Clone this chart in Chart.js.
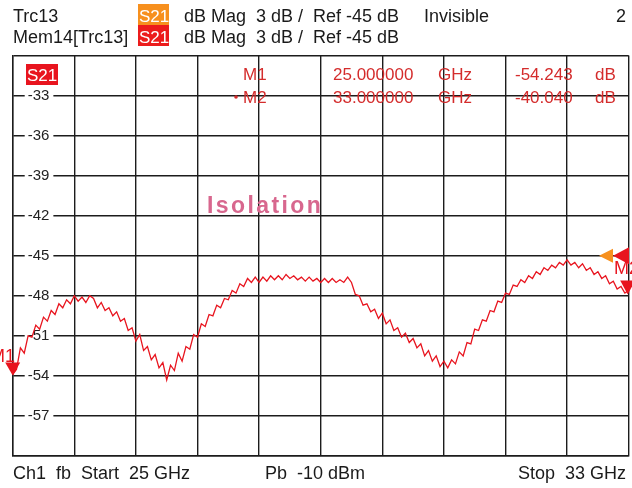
<!DOCTYPE html>
<html><head><meta charset="utf-8">
<script src="https://cdn.jsdelivr.net/npm/chart.js@4.4.1/dist/chart.umd.min.js"></script>
<style>html,body{margin:0;padding:0;background:#fff;}canvas{display:block;}</style>
</head><body>
<canvas id="c" width="632" height="488"></canvas>
<script>
// Sweep definition (GHz)
const freqStartGHz = 25;
const freqStopGHz = 33;
const freqStepGHz = 0.05;
// Trace S21 magnitude (dB)
const s21dB = [
  -53.9,-53.5,-51.9,-52.3,-51.0,-51.1,-50.2,-50.5,-49.6,-49.9,
  -49.1,-49.4,-48.6,-48.9,-48.3,-48.6,-48.0,-48.4,-48.1,-48.5,
  -48.0,-48.2,-48.9,-48.5,-49.1,-48.9,-49.5,-49.2,-49.9,-49.7,
  -50.6,-50.4,-51.4,-50.9,-52.1,-51.8,-52.8,-52.4,-53.4,-53.0,
  -54.3,-53.2,-53.6,-52.3,-52.9,-51.8,-52.0,-50.9,-51.1,-50.1,
  -50.3,-49.4,-49.5,-48.7,-48.9,-48.2,-48.3,-47.6,-47.8,-47.1,
  -47.3,-46.7,-47.0,-46.6,-47.0,-46.6,-46.9,-46.5,-46.8,-46.5,
  -46.8,-46.4,-46.7,-46.5,-46.8,-46.6,-46.9,-46.6,-46.9,-46.7,
  -47.0,-46.7,-47.0,-46.7,-47.0,-46.8,-47.0,-46.6,-47.0,-47.9,
  -48.0,-48.7,-48.6,-49.2,-49.0,-49.7,-49.3,-50.1,-49.8,-50.6,
  -50.4,-51.1,-50.8,-51.5,-51.2,-51.9,-51.6,-52.5,-52.1,-52.9,
  -52.5,-53.3,-52.9,-53.4,-52.8,-53.1,-52.2,-52.5,-51.5,-51.6,
  -50.5,-50.6,-49.8,-49.9,-49.1,-49.2,-48.4,-48.5,-47.8,-47.9,
  -47.2,-47.3,-46.8,-47.0,-46.5,-46.7,-46.2,-46.4,-45.9,-46.1,
  -45.7,-45.9,-45.5,-45.7,-45.3,-45.7,-45.5,-45.9,-45.6,-46.1,
  -45.9,-46.4,-46.2,-46.7,-46.5,-47.1,-46.9,-47.5,-47.3,-47.8,-47.6
];
// Axis settings
const yMin = -60, yMax = -30, yStep = 3;
const xDivisionGHz = 0.8;
const yTickLabels = ['-33','-36','-39','-42','-45','-48','-51','-54','-57'];
const refLevel = -45;
// Markers
const markerNames = ['M1', 'M2'];
const markerFreqGHz = [25, 33];
const markerFreqText = ['25.000000', '33.000000'];
const markerValueText = ['-54.243', '-40.040'];

const freqs = s21dB.map((_, i) => +(freqStartGHz + i * freqStepGHz).toFixed(3));
const points = freqs.map((f, i) => ({ x: f, y: s21dB[i] }));

const FONT = '"Liberation Sans", Arial, sans-serif';
const GRID = '#1c1c1c';
const RED = '#e8141e';

const overlay = {
  id: 'overlay',
  afterDraw(chart) {
    const ctx = chart.ctx, xs = chart.scales.x, ys = chart.scales.y;
    ctx.save();
    ctx.textBaseline = 'alphabetic';
    // Header
    ctx.font = '18px ' + FONT;
    ctx.fillStyle = '#1a1a1a';
    ctx.textAlign = 'left';
    ctx.fillText('Trc13', 13, 22);
    ctx.fillText('Mem14[Trc13]', 13, 43);
    ctx.fillStyle = '#f7901e'; ctx.fillRect(138, 4, 31, 21);
    ctx.fillStyle = '#ec1c1c'; ctx.fillRect(138, 25, 31, 21);
    ctx.fillStyle = '#fff';
    ctx.font = '17px ' + FONT;
    ctx.fillText('S21', 139, 22);
    ctx.fillText('S21', 139, 43);
    ctx.font = '18px ' + FONT;
    ctx.fillStyle = '#1a1a1a';
    ctx.fillText('dB Mag  3 dB /  Ref -45 dB', 184, 22);
    ctx.fillText('dB Mag  3 dB /  Ref -45 dB', 184, 43);
    ctx.fillText('Invisible', 424, 22);
    ctx.textAlign = 'right';
    ctx.fillText('2', 626, 22);
    // Footer
    ctx.textAlign = 'left';
    ctx.fillText('Ch1  fb  Start  25 GHz', 13, 479);
    ctx.fillText('Pb  -10 dBm', 265, 479);
    ctx.textAlign = 'right';
    ctx.fillText('Stop  33 GHz', 626, 479);

    // S21 trace label box
    ctx.fillStyle = RED; ctx.fillRect(26, 64, 32, 21);
    ctx.fillStyle = '#fff'; ctx.textAlign = 'left'; ctx.font = '17px ' + FONT;
    ctx.fillText('S21', 27, 81);

    // Marker table
    ctx.fillStyle = '#d42c2c';
    ctx.font = '17px ' + FONT;
    const rows = [80, 103];
    markerNames.forEach((m, i) => {
      const yb = rows[i];
      ctx.textAlign = 'left';
      ctx.fillText(m, 243, yb);
      ctx.fillText(markerFreqText[i], 333, yb);
      ctx.fillText('GHz', 438, yb);
      ctx.fillText(markerValueText[i], 515, yb);
      ctx.fillText('dB', 595, yb);
    });
    ctx.beginPath(); ctx.arc(236, 97, 1.8, 0, Math.PI * 2); ctx.fill();

    // Isolation
    ctx.fillStyle = '#d8678e';
    ctx.font = 'bold 23px ' + FONT;
    ctx.textAlign = 'left';
    if ('letterSpacing' in ctx) ctx.letterSpacing = '2.4px';
    ctx.fillText('Isolation', 207, 213);
    if ('letterSpacing' in ctx) ctx.letterSpacing = '0px';

    // Marker triangles
    const down = (x, yTip, w, h, col) => {
      ctx.fillStyle = col; ctx.beginPath();
      ctx.moveTo(x - w / 2, yTip - h); ctx.lineTo(x + w / 2, yTip - h); ctx.lineTo(x, yTip); ctx.closePath(); ctx.fill();
    };
    const left = (xTip, y, w, h, col) => {
      ctx.fillStyle = col; ctx.beginPath();
      ctx.moveTo(xTip, y); ctx.lineTo(xTip + w, y - h / 2); ctx.lineTo(xTip + w, y + h / 2); ctx.closePath(); ctx.fill();
    };
    const m1x = xs.getPixelForValue(markerFreqGHz[0]);
    const m1y = ys.getPixelForValue(s21dB[0]);
    down(m1x, m1y + 1, 15, 13, RED);
    const m2x = xs.getPixelForValue(markerFreqGHz[1]);
    const m2y = ys.getPixelForValue(s21dB[s21dB.length - 1]);
    down(m2x - 1, m2y + 4, 15, 14, RED);
    const ry = ys.getPixelForValue(refLevel);
    left(599, ry, 14, 14, '#f7901e');
    left(613, ry, 16, 17, RED);
    ctx.fillStyle = RED; ctx.font = '18px ' + FONT;
    ctx.textAlign = 'left'; ctx.fillText('M2', 614, 274);
    ctx.textAlign = 'right'; ctx.fillText('M1', 15, 362);
    ctx.restore();
  }
};

new Chart(document.getElementById('c'), {
  type: 'line',
  data: { datasets: [{ data: points, borderColor: RED, borderWidth: 1.3, pointRadius: 0, tension: 0, fill: false }] },
  options: {
    responsive: false, animation: false, devicePixelRatio: 1,
    layout: { padding: { left: 12.7, right: 3.3, top: 55.5, bottom: 32 } },
    plugins: { legend: { display: false }, tooltip: { enabled: false } },
    scales: {
      x: {
        type: 'linear', min: freqStartGHz, max: freqStopGHz,
        ticks: { display: false, stepSize: xDivisionGHz },
        grid: { color: GRID, lineWidth: 1.4, drawTicks: false },
        border: { color: GRID, width: 1.4 },
        afterFit: s => { s.height = 0; }
      },
      y: {
        type: 'linear', min: yMin, max: yMax,
        ticks: {
          stepSize: yStep, mirror: true, padding: 15,
          color: '#222', font: { family: FONT, size: 15 },
          callback: v => yTickLabels.includes(String(v)) ? String(v) : '',
          showLabelBackdrop: true,
          backdropColor: c => yTickLabels.includes(String(c.tick.value)) ? '#ffffff' : 'rgba(0,0,0,0)',
          backdropPadding: { left: 3, right: 4, top: 0, bottom: 0 }
        },
        grid: { color: GRID, lineWidth: 1.4, drawTicks: false },
        border: { color: GRID, width: 1.4 },
        afterFit: s => { s.width = 0; }
      }
    }
  },
  plugins: [overlay]
});
</script>
</body></html>
